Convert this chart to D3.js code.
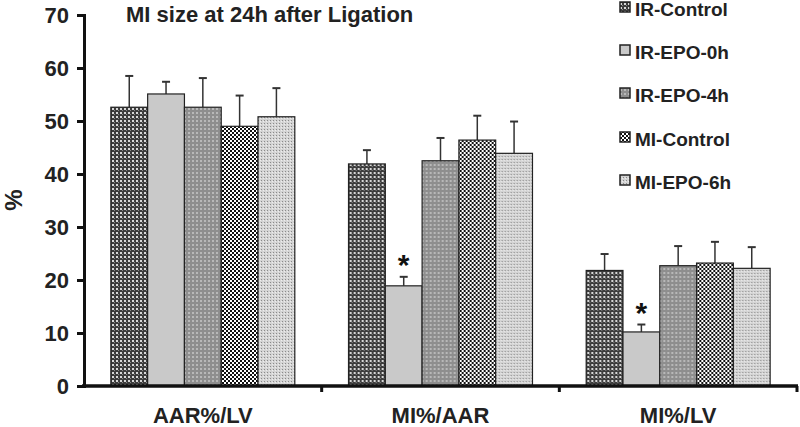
<!DOCTYPE html>
<html><head><meta charset="utf-8">
<script src="https://cdn.jsdelivr.net/npm/d3@7"></script>
<style>body{margin:0;background:#fff}svg{display:block;font-family:"Liberation Sans",Arial,sans-serif}</style>
</head><body><svg id="c" width="800" height="427"></svg>
<script>
const categories = ["AAR%/LV", "MI%/AAR", "MI%/LV"];
const seriesNames = ["IR-Control", "IR-EPO-0h", "IR-EPO-4h", "MI-Control", "MI-EPO-6h"];
const irControl = [52.6, 41.9, 21.8];
const irEpo0h   = [55.1, 18.9, 10.2];
const irEpo4h   = [52.6, 42.5, 22.7];
const miControl = [49.0, 46.4, 23.2];
const miEpo6h   = [50.8, 43.9, 22.2];
const errIrControl = [5.9, 2.6, 3.1];
const errIrEpo0h   = [2.3, 1.7, 1.4];
const errIrEpo4h   = [5.5, 4.3, 3.7];
const errMiControl = [5.8, 4.6, 4.0];
const errMiEpo6h   = [5.4, 6.0, 4.0];
const significant  = [[false,false,false],[false,true,true],[false,false,false],[false,false,false],[false,false,false]];
const yTicks = [0,10,20,30,40,50,60,70];
const title = "MI size at 24h after Ligation";

const values = [irControl, irEpo0h, irEpo4h, miControl, miEpo6h];
const errors = [errIrControl, errIrEpo0h, errIrEpo4h, errMiControl, errMiEpo6h];

const svg = d3.select("#c");
const defs = svg.append("defs");
function pat(id, size, bg, dots){
  const p = defs.append("pattern").attr("id", id).attr("patternUnits","userSpaceOnUse").attr("width", size).attr("height", size);
  p.append("rect").attr("width", size).attr("height", size).attr("fill", bg);
  dots.forEach(d => p.append("rect").attr("x", d[0]).attr("y", d[1]).attr("width", d[2]).attr("height", d[2]).attr("fill", d[3]));
}
pat("p0", 4, "#3c3c3c", [[0,0,2,"#d8d8d8"],[2,2,1,"#8a8a8a"]]);
pat("p1", 4, "#c9c9c9", []);
pat("p2", 4, "#8e8e8e", [[0,0,2,"#b8b8b8"]]);
pat("p3", 4, "#ffffff", [[0,0,2,"#111"],[2,2,2,"#111"]]);
pat("p4", 3, "#d4d4d4", [[0,0,1,"#8a8a8a"],[2,1,1,"#ededed"]]);
const fills = ["url(#p0)","url(#p1)","url(#p2)","url(#p3)","url(#p4)"];

const x0 = d3.scaleBand().domain(categories).range([84, 797]).paddingInner(0).paddingOuter(0);
const x1 = d3.scaleBand().domain(seriesNames).range([0, x0.bandwidth()]).paddingInner(0).paddingOuter(0.73);
const y = d3.scaleLinear().domain([0,70]).range([386, 15]);

// bars
categories.forEach((cat, ci) => {
  const g = svg.append("g").attr("transform", `translate(${x0(cat)},0)`);
  seriesNames.forEach((s, si) => {
    const v = values[si][ci], e = errors[si][ci];
    const bx = x1(s), bw = x1.bandwidth(), cx = bx + bw/2;
    g.append("line").attr("x1", cx).attr("x2", cx).attr("y1", y(v)).attr("y2", y(v+e)).attr("stroke","#333").attr("stroke-width",1.5);
    g.append("line").attr("x1", cx-4).attr("x2", cx+4).attr("y1", y(v+e)).attr("y2", y(v+e)).attr("stroke","#333").attr("stroke-width",2);
    g.append("rect").attr("x", bx).attr("y", y(v)).attr("width", bw).attr("height", y(0)-y(v))
      .attr("fill", fills[si]).attr("stroke","#222").attr("stroke-width",1.2);
    if (significant[si][ci]) {
      g.append("text").attr("x", cx).attr("y", y(v+e) - 2).attr("text-anchor","middle")
        .attr("font-size", 30).attr("font-weight","bold").attr("fill","#111").text("*");
    }
  });
});

// y axis
const yAxis = d3.axisLeft(y).tickValues(yTicks).tickSize(7).tickPadding(8).tickFormat(d3.format("d"));
const ya = svg.append("g").attr("transform","translate(84,0)").call(yAxis);
ya.select(".domain").attr("stroke","#111").attr("stroke-width",3);
ya.selectAll(".tick line").attr("stroke","#111").attr("stroke-width",3);
ya.selectAll(".tick text").attr("font-size",22).attr("font-weight","bold").attr("fill","#222")
  .attr("font-family","'Liberation Sans',Arial,sans-serif");

// x axis
const xa = svg.append("g").attr("transform","translate(0,386)");
xa.append("line").attr("x1",82).attr("x2",798).attr("y1",0).attr("y2",0).attr("stroke","#111").attr("stroke-width",3.5);
x0.domain().forEach(c => {
  const xe = x0(c) + x0.bandwidth();
  xa.append("line").attr("x1",xe).attr("x2",xe).attr("y1",0).attr("y2",6).attr("stroke","#111").attr("stroke-width",3);
  xa.append("text").attr("x", x0(c)+x0.bandwidth()/2).attr("y", 37).attr("text-anchor","middle")
    .attr("font-size",22).attr("font-weight","bold").attr("fill","#222").text(c);
});

// y label
svg.append("text").attr("transform","translate(22,200) rotate(-90)").attr("text-anchor","middle")
  .attr("font-size",24).attr("font-weight","bold").attr("fill","#222").text("%");

// title
svg.append("text").attr("x",126).attr("y",22).attr("font-size",22).attr("font-weight","bold").attr("fill","#222").text(title);

// legend
const legY = [7, 50, 93, 137, 180];
seriesNames.forEach((s, i) => {
  const lg = svg.append("g").attr("transform", `translate(620,${legY[i]})`);
  lg.append("rect").attr("x",0).attr("y",-5).attr("width",10).attr("height",10).attr("fill",fills[i]).attr("stroke","#222").attr("stroke-width",1.5);
  lg.append("text").attr("x",15).attr("y",9).attr("font-size",19).attr("font-weight","bold").attr("fill","#222").text(s);
});
</script></body></html>
